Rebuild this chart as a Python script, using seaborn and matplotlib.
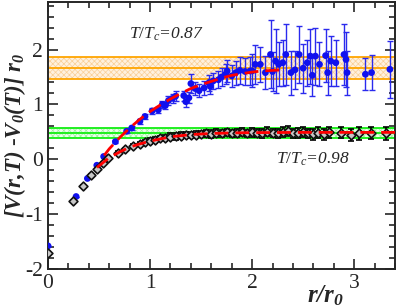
import matplotlib
matplotlib.use("Agg")
import matplotlib.pyplot as plt
from matplotlib.ticker import MultipleLocator
import numpy as np
import pandas as pd
import seaborn as sns

# T/Tc = 0.87 (blue points)
r_087 = [0.00, 0.275, 0.386, 0.478, 0.545, 0.66, 0.77, 0.82, 0.90, 0.95,
         1.02, 1.08, 1.12, 1.15, 1.18, 1.22, 1.25, 1.33, 1.35, 1.38,
         1.40, 1.44, 1.48, 1.53, 1.575, 1.59, 1.62, 1.67, 1.70, 1.74,
         1.755, 1.80, 1.84, 1.88, 1.93, 1.98, 2.00, 2.03, 2.08, 2.13,
         2.18, 2.20, 2.23, 2.26, 2.30, 2.33, 2.38, 2.42, 2.46, 2.50,
         2.54, 2.57, 2.59, 2.62, 2.66, 2.72, 2.74, 2.77, 2.82, 2.90,
         2.92, 2.93, 3.11, 3.17, 3.35]
v_087 = [-1.58, -0.68, -0.35, -0.11, 0.05, 0.32, 0.51, 0.57, 0.69, 0.78,
         0.88, 0.90, 1.00, 0.98, 1.07, 1.11, 1.15, 1.16, 1.05, 1.12,
         1.38, 1.29, 1.25, 1.30, 1.39, 1.33, 1.43, 1.45, 1.50, 1.55,
         1.61, 1.52, 1.58, 1.62, 1.60, 1.61, 1.61, 1.73, 1.73, 1.58,
         1.91, 1.60, 1.79, 1.73, 1.76, 1.91, 1.58, 1.63, 1.91, 1.66,
         1.76, 1.88, 1.53, 1.88, 1.73, 1.89, 1.58, 1.79, 1.76, 1.91,
         1.82, 1.58, 1.55, 1.58, 1.64]
e_087 = [0.00, 0.00, 0.00, 0.01, 0.02, 0.03, 0.04, 0.04, 0.05, 0.05,
         0.06, 0.06, 0.07, 0.07, 0.08, 0.08, 0.09, 0.09, 0.10, 0.10,
         0.18, 0.12, 0.12, 0.13, 0.14, 0.14, 0.15, 0.16, 0.17, 0.18,
         0.20, 0.20, 0.22, 0.24, 0.25, 0.26, 0.30, 0.35, 0.32, 0.30,
         0.62, 0.35, 0.58, 0.40, 0.42, 0.55, 0.40, 0.35, 0.52, 0.45,
         0.42, 0.50, 0.38, 0.52, 0.40, 0.48, 0.40, 0.45, 0.42, 0.55,
         0.50, 0.40, 0.29, 0.32, 0.52]

# T/Tc = 0.98 (open diamonds)
r_098 = [0.00, 0.243, 0.34, 0.42, 0.48, 0.537, 0.586, 0.69, 0.75, 0.835,
         0.90, 0.95, 1.00, 1.05, 1.10, 1.15, 1.20, 1.25, 1.30, 1.35,
         1.40, 1.45, 1.50, 1.55, 1.60, 1.65, 1.70, 1.75, 1.80, 1.85,
         1.90, 1.95, 2.00, 2.05, 2.10, 2.15, 2.20, 2.25, 2.30, 2.35,
         2.40, 2.45, 2.50, 2.55, 2.60, 2.65, 2.70, 2.75, 2.87, 2.97,
         3.05, 3.16, 3.31]
v_098 = [-1.71, -0.77, -0.48, -0.28, -0.17, -0.07, 0.02, 0.12, 0.18, 0.24,
         0.28, 0.31, 0.33, 0.35, 0.38, 0.39, 0.41, 0.42, 0.43, 0.44,
         0.44, 0.45, 0.46, 0.47, 0.46, 0.48, 0.47, 0.49, 0.47, 0.48,
         0.50, 0.47, 0.49, 0.48, 0.47, 0.50, 0.48, 0.47, 0.49, 0.51,
         0.47, 0.48, 0.50, 0.47, 0.46, 0.48, 0.46, 0.49, 0.48, 0.45,
         0.47, 0.48, 0.47]
e_098 = [0.00, 0.01, 0.01, 0.01, 0.01, 0.02, 0.02, 0.03, 0.03, 0.04,
         0.04, 0.04, 0.05, 0.05, 0.05, 0.05, 0.06, 0.06, 0.06, 0.06,
         0.06, 0.06, 0.06, 0.07, 0.07, 0.07, 0.07, 0.07, 0.07, 0.07,
         0.07, 0.07, 0.08, 0.08, 0.08, 0.08, 0.08, 0.08, 0.09, 0.09,
         0.09, 0.09, 0.09, 0.09, 0.10, 0.10, 0.10, 0.10, 0.10, 0.11,
         0.11, 0.11, 0.11]

# fit curves (red dashed)
fit_r_087 = [0.55, 0.6, 0.7, 0.8, 0.9, 1.0, 1.1, 1.2, 1.3, 1.4, 1.5, 1.6,
             1.7, 1.8, 1.9, 2.0, 2.1, 2.2, 2.3]
fit_v_087 = [0.07, 0.19, 0.39, 0.57, 0.73, 0.87, 0.99, 1.10, 1.20, 1.29, 1.36, 1.42,
             1.48, 1.53, 1.56, 1.59, 1.61, 1.62, 1.63]
fit_r_098 = [0.48, 0.6, 0.7, 0.8, 0.9, 1.0, 1.1, 1.2, 1.3, 1.4, 1.5, 1.6,
             1.8, 2.0, 2.5, 3.0, 3.4]
fit_v_098 = [-0.15, 0.03, 0.13, 0.22, 0.28, 0.33, 0.37, 0.41, 0.43, 0.45, 0.46, 0.47,
             0.48, 0.485, 0.49, 0.49, 0.49]

# asymptotic bands (low, centre, high)
band_087 = [1.455, 1.656, 1.857]
band_098 = [0.395, 0.486, 0.578]

sns.set_style("ticks")
plt.rcParams["font.family"] = ["Liberation Serif", "DejaVu Serif"]
plt.rcParams["mathtext.fontset"] = "custom"
plt.rcParams["mathtext.rm"] = "Liberation Serif"
plt.rcParams["mathtext.it"] = "Liberation Serif:italic"
plt.rcParams["mathtext.bf"] = "Liberation Serif:bold"
plt.rcParams["mathtext.bfit"] = "Liberation Serif:italic:bold"
plt.rcParams["axes.unicode_minus"] = False
plt.rcParams["hatch.linewidth"] = 0.5

fig = plt.figure(figsize=(3.97, 3.07), dpi=100)
ax = fig.add_axes([0.121, 0.124, 0.874, 0.870])

xx = np.array([0, 3.4])
ax.fill_between(xx, band_087[0], band_087[2], facecolor="#fff1de",
                edgecolor="#f9cf98", hatch="xxxxxx", linewidth=0, zorder=1)
for b in band_087:
    ax.axhline(b, color="#ffa500", lw=1.3, zorder=2)
ax.fill_between(xx, band_098[0], band_098[2], facecolor="#eaffea",
                edgecolor="#9cf09c", hatch="xxxxxx", linewidth=0, zorder=1)
for b in band_098:
    ax.axhline(b, color="#11ee11", lw=1.3, zorder=2)

ax.errorbar(r_087, v_087, yerr=e_087, fmt="none", ecolor="#2a2aee",
            elinewidth=1, capsize=2.2, capthick=1, zorder=3)
sns.scatterplot(x=r_087, y=v_087, ax=ax, color="#1010ee", s=24,
                edgecolor="none", zorder=4)

ax.errorbar(r_098, v_098, yerr=e_098, fmt="none", ecolor="black",
            elinewidth=1.2, capsize=2.2, capthick=1.2, zorder=5)
sns.scatterplot(x=r_098, y=v_098, ax=ax, marker="D", s=20, color="#c8c8c8",
                edgecolor="#111111", linewidth=1.2, zorder=6)

fits = pd.DataFrame({"r": fit_r_087 + fit_r_098,
                     "v": fit_v_087 + fit_v_098,
                     "T": ["0.87"] * len(fit_r_087) + ["0.98"] * len(fit_r_098)})
sns.lineplot(data=fits, x="r", y="v", units="T", estimator=None, sort=False,
             color="red", lw=2, dashes=False, ax=ax, zorder=7)
for line in ax.get_lines()[-2:]:
    line.set_dashes([5, 2.5])

ax.set_xlim(0, 3.4)
ax.set_ylim(-2, 2.87)
ax.xaxis.set_major_locator(MultipleLocator(1))
ax.xaxis.set_minor_locator(MultipleLocator(0.2))
ax.yaxis.set_major_locator(MultipleLocator(1))
ax.yaxis.set_minor_locator(MultipleLocator(0.2))
ax.tick_params(which="both", direction="in", top=True, right=True,
               labelsize=15.5, width=1.2)
ax.tick_params(which="major", length=7)
ax.tick_params(which="minor", length=4)
for s in ax.spines.values():
    s.set_linewidth(1.4)

ax.set_xlabel(r"$\mathbfit{r/r_0}$", fontsize=18)
ax.xaxis.set_label_coords(0.80, -0.055)
ax.set_ylabel(r"$\mathbfit{[V(r{,}T)\ \text{-}V_0(T)]\ r_0}$", fontsize=16.5)
ax.yaxis.set_label_coords(-0.058, 0.5)

ax.text(0.79, 2.28, r"$T/T_c$=0.87", fontsize=12.5, style="italic",
        va="center")
ax.text(2.23, -0.01, r"$T/T_c$=0.98", fontsize=12.5, style="italic",
        va="center")

fig.savefig("out.png", dpi=100)
